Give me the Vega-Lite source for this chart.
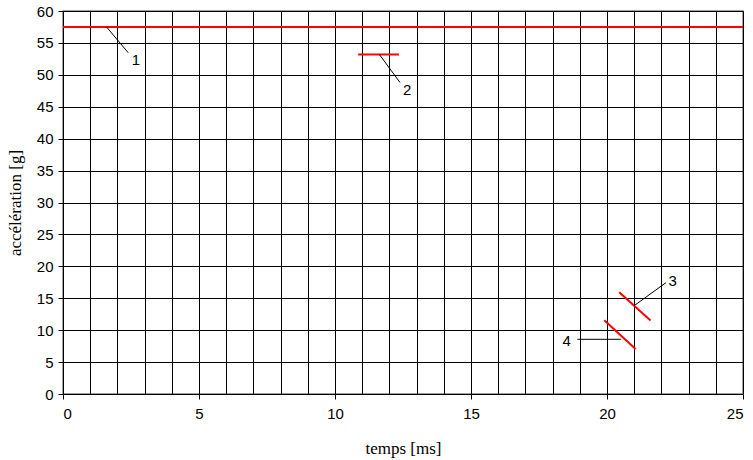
{
  "$schema": "https://vega.github.io/schema/vega-lite/v6.json",
  "width": 680,
  "height": 383,
  "autosize": "none",
  "padding": {"left": 63, "top": 11, "right": 10, "bottom": 66},
  "background": "white",
  "config": {
    "view": {"stroke": "#808080", "strokeWidth": 1.5},
    "axis": {
      "labelFont": "Liberation Sans",
      "labelFontSize": 15,
      "labelColor": "black",
      "labelOverlap": false,
      "titleFont": "Liberation Serif",
      "titleFontSize": 17,
      "titleFontWeight": "normal",
      "titleColor": "black",
      "domainColor": "black",
      "tickColor": "black",
      "gridColor": "black",
      "gridOpacity": 1,
      "gridWidth": 1
    }
  },
  "datasets": {
    "curves": [
      {"curve": "1", "x": 0, "y": 57.5},
      {"curve": "1", "x": 25, "y": 57.5},
      {"curve": "2", "x": 10.85, "y": 53.2},
      {"curve": "2", "x": 12.35, "y": 53.2},
      {"curve": "3", "x": 20.45, "y": 15.95},
      {"curve": "3", "x": 21.6, "y": 11.5},
      {"curve": "4", "x": 19.9, "y": 11.55},
      {"curve": "4", "x": 21.05, "y": 7.05}
    ],
    "leaders": [
      {"leader": "1", "x": 1.6, "y": 57.5},
      {"leader": "1", "x": 2.4, "y": 53.45},
      {"leader": "2", "x": 11.63, "y": 53.2},
      {"leader": "2", "x": 12.39, "y": 48.8},
      {"leader": "3", "x": 21.0, "y": 13.84},
      {"leader": "3", "x": 22.17, "y": 17.45},
      {"leader": "4", "x": 18.91, "y": 8.57},
      {"leader": "4", "x": 20.51, "y": 8.57}
    ],
    "labels": [
      {"label": "1", "x": 2.68, "y": 52.35},
      {"label": "2", "x": 12.65, "y": 47.6},
      {"label": "3", "x": 22.41, "y": 17.76},
      {"label": "4", "x": 18.52, "y": 8.3}
    ]
  },
  "encoding": {
    "x": {
      "field": "x", "type": "quantitative",
      "scale": {"domain": [0, 25], "nice": false},
      "axis": {
        "title": "temps [ms]",
        "values": [0,1,2,3,4,5,6,7,8,9,10,11,12,13,14,15,16,17,18,19,20,21,22,23,24,25],
        "labelExpr": "datum.value % 5 === 0 ? datum.label : ''",
        "tickOpacity": {"condition": {"test": "datum.value % 5 === 0", "value": 1}, "value": 0},
        "tickSize": 5,
        "labelPadding": 7,
        "titlePadding": 19,
        "grid": true
      }
    },
    "y": {
      "field": "y", "type": "quantitative",
      "scale": {"domain": [0, 60], "nice": false},
      "axis": {
        "title": "accélération [g]",
        "values": [0,5,10,15,20,25,30,35,40,45,50,55,60],
        "tickSize": 5,
        "labelPadding": 5,
        "titlePadding": 12,
        "grid": true
      }
    }
  },
  "layer": [
    {
      "data": {"name": "curves"},
      "mark": {"type": "line", "color": "#ff0000", "strokeWidth": 2},
      "encoding": {"detail": {"field": "curve"}}
    },
    {
      "data": {"name": "leaders"},
      "mark": {"type": "line", "color": "black", "strokeWidth": 1},
      "encoding": {"detail": {"field": "leader"}}
    },
    {
      "data": {"name": "labels"},
      "mark": {"type": "text", "font": "Liberation Sans", "fontSize": 15, "color": "black", "align": "center", "baseline": "middle"},
      "encoding": {"text": {"field": "label"}}
    }
  ]
}
